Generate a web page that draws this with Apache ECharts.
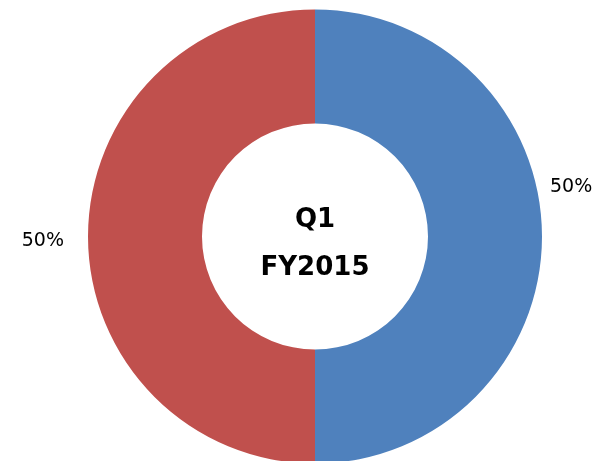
<!DOCTYPE html>
<html>
<head>
<meta charset="utf-8">
<script src="https://cdn.jsdelivr.net/npm/echarts@6/dist/echarts.min.js"></script>
<style>
	html, body { margin: 0; padding: 0; background: #fff; }
	#chart { width: 603px; height: 461px; }
</style>
</head>
<body>
<div id="chart"></div>
<script>
	var categories = ['A', 'B'];
	var values = [50, 50];
	var colors = ['#4F81BD', '#C0504D'];
	var centerLines = ['Q1', 'FY2015'];

	// labels sit a bit off the slice midpoints in the original
	var labelOffsets = [[-13, -49], [-3, 5]];

	var chart = echarts.init(document.getElementById('chart'));

	var total = values.reduce(function(a, b) { return a + b; }, 0);

	chart.setOption({
		animation: false,
		title: {
			text: centerLines.join('\n'),
			left: 315,
			top: 196,
			padding: 0,
			textAlign: 'center',
			textStyle: {
				fontFamily: 'DejaVu Sans',
				fontWeight: 'bold',
				fontSize: 26,
				lineHeight: 48,
				color: '#000'
			}
		},
		series: [{
			type: 'pie',
			center: [315, 236.5],
			radius: [113, 227],
			startAngle: 90,
			clockwise: true,
			silent: true,
			data: categories.map(function(c, i) {
				return {
					name: c,
					value: values[i],
					itemStyle: { color: colors[i] },
					label: { offset: labelOffsets[i] }
				};
			}),
			label: {
				show: true,
				position: 'outside',
				overflow: 'none',
				edgeDistance: 0,
				formatter: function(p) { return Math.round(p.value / total * 100) + '%'; },
				fontFamily: 'DejaVu Sans',
				fontSize: 19,
				color: '#000'
			},
			labelLine: { show: false, length: 8, length2: 8 }
		}]
	});
</script>
</body>
</html>
